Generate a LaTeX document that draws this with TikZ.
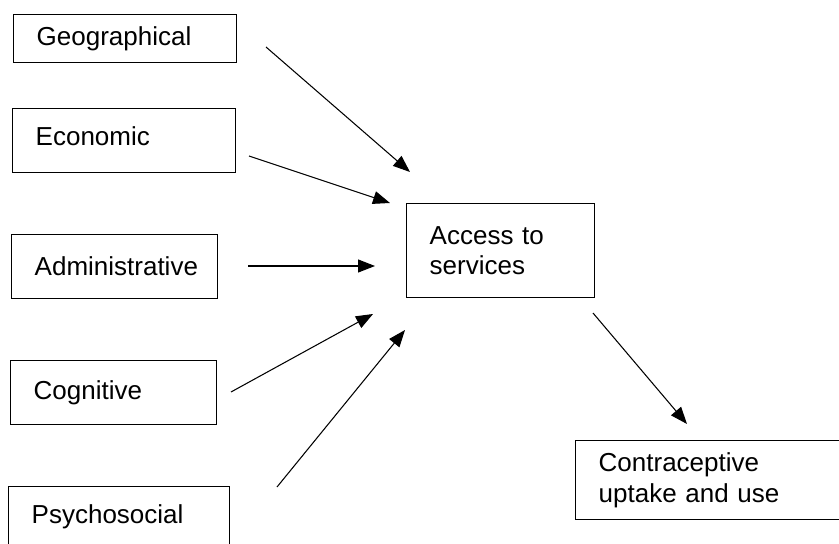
\documentclass[tikz,border=0pt]{standalone}
\usepackage{fontspec}
\setmainfont{Liberation Sans}
\usetikzlibrary{positioning, arrows.meta}
\tikzset{
  factor/.style={
    draw,
    rectangle,
    line width=0.8pt,
    anchor=north west,
    inner xsep=0.46cm,
    inner ysep=0pt,
    align=left,
    font=\fontsize{14.8}{17.5}\selectfont
  },
  link/.style={
    line width=0.6pt,
    -{Triangle[length=0.34cm, width=0.26cm]}
  }
}
\begin{document}
\begin{tikzpicture}[x=0.02cm, y=-0.02cm]
    \clip (0,0) rectangle (839,544);
    % factors on the left
    \node[factor, text width=3.54cm, minimum height=0.96cm] (geo) at (13,14) {Geographical};
    \node[factor, text width=3.54cm, minimum height=1.28cm, text depth=0.2cm] (eco) at (12,108) {Economic};
    \node[factor, text width=3.2cm, minimum height=1.28cm] (adm) at (11,234) {Administrative};
    \node[factor, text width=3.2cm, minimum height=1.28cm] (cog) at (10,360) {Cognitive};
    \node[factor, text width=3.5cm, minimum height=1.2cm] (psy) at (8,486) {Psychosocial};
    % outcome side
    \node[factor, text width=2.84cm, minimum height=1.88cm] (access) at (406,203) {Access to\\services};
    \node[factor, text width=5.4cm, minimum height=1.58cm] (uptake) at (575,440) {Contraceptive\\uptake and use};

    % arrow ends (they float free of the boxes)
    \coordinate (geo out) at (266,47);   \coordinate (geo in) at (410,172);
    \coordinate (eco out) at (249,156);  \coordinate (eco in) at (390,203);
    \coordinate (adm out) at (248,266);  \coordinate (adm in) at (375,266);
    \coordinate (cog out) at (231,392);  \coordinate (cog in) at (373,314);
    \coordinate (psy out) at (277,487);  \coordinate (psy in) at (405,330);
    \coordinate (access out) at (593,313); \coordinate (uptake in) at (687,424);

    \draw[link] (geo out) -- (geo in);
    \draw[link] (eco out) -- (eco in);
    \draw[link] (adm out) -- (adm in);
    \draw[link] (cog out) -- (cog in);
    \draw[link] (psy out) -- (psy in);
    \draw[link] (access out) -- (uptake in);
\end{tikzpicture}
\end{document}
